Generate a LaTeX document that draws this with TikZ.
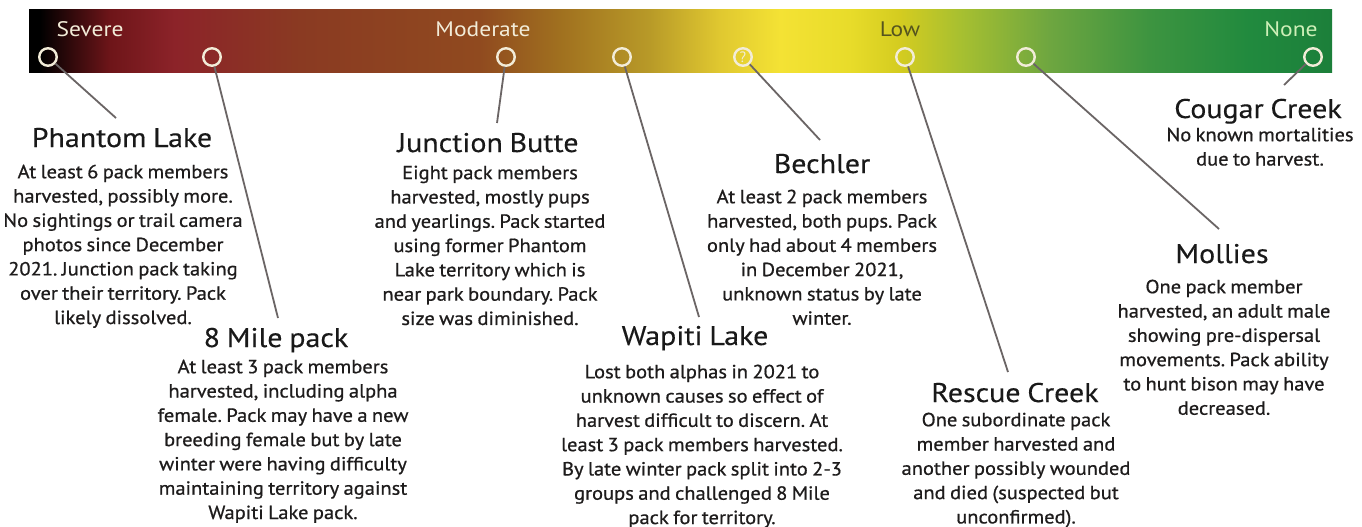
\documentclass[tikz,border=0pt]{standalone}
\usepackage{fontspec}
\setmainfont{PT Sans}
\newfontfamily\bodyf{PT Sans}[FakeStretch=1.08,FakeBold=0.7,WordSpace=0.8]
\newfontfamily\ttlf{PT Sans}[FakeStretch=1.11,FakeBold=0.3,WordSpace=0.85]
\newfontfamily\barf{PT Sans}[FakeStretch=1.12]
\frenchspacing
\definecolor{cream}{HTML}{F2ECD8}
\definecolor{lowtxt}{HTML}{55541E}
\definecolor{conn}{HTML}{6B6565}
\definecolor{bodytxt}{HTML}{1E1C1C}
\definecolor{ga}{HTML}{6E1519}
\definecolor{gb}{HTML}{8C2329}
\definecolor{gc}{HTML}{8A3A22}
\definecolor{gd}{HTML}{904A1F}
\definecolor{ge}{HTML}{A0701F}
\definecolor{gf}{HTML}{B89A28}
\definecolor{gg}{HTML}{E0C830}
\definecolor{gh}{HTML}{F4E234}
\definecolor{gi}{HTML}{E8DC2A}
\definecolor{gj}{HTML}{D4CC20}
\definecolor{gk}{HTML}{A8C030}
\definecolor{gl}{HTML}{6EA640}
\definecolor{gm}{HTML}{3D9440}
\definecolor{gn}{HTML}{218A3E}
\definecolor{go}{HTML}{1C7F3A}
\pgfdeclarehorizontalshading{harvestbar}{100bp}{%
color(0bp)=(black);
color(25bp)=(black);
color(25.42bp)=(black);
color(28.11bp)=(ga);
color(30.6bp)=(gb);
color(35.39bp)=(gc);
color(42.29bp)=(gd);
color(45.36bp)=(ge);
color(48.81bp)=(gf);
color(51.5bp)=(gg);
color(53.8bp)=(gh);
color(56.48bp)=(gi);
color(58.4bp)=(gj);
color(60.7bp)=(gk);
color(64.15bp)=(gl);
color(67.99bp)=(gm);
color(71.82bp)=(gn);
color(75bp)=(go);
color(100bp)=(go)}
\begin{document}
\begin{tikzpicture}[x=1pt,y=-1pt,
  ring/.style={circle,draw=cream,line width=2.4pt,minimum size=17.5pt,inner sep=0pt},
  conn/.style={draw=conn,line width=1.8pt},
  bartxt/.style={font=\barf\fontsize{21}{24}\selectfont,inner sep=0pt,anchor=base},
  ttl/.style={font=\ttlf\fontsize{27}{30}\selectfont,text=black!90,inner sep=0pt,anchor=base},
  body/.style={font=\bodyf\fontsize{19}{24.3}\selectfont,text=bodytxt,align=center,inner sep=0pt,anchor=north}]
\useasboundingbox (0,0) rectangle (1362,527);
\fill[white] (0,0) rectangle (1362,527);
% bar
\shade[shading=harvestbar] (29,10) rectangle (1332,72);
\node[bartxt,text=cream] (lsev) at (90,37) {Severe};
\node[bartxt,text=cream] (lmod) at (483,37) {Moderate};
\node[bartxt,text=lowtxt] (llow) at (900,37) {Low};
\node[bartxt,text=cream!85!green] (lnon) at (1291,37) {None};
% rings
\node[ring] (c1) at (48,57) {};
\node[ring] (c2) at (212,57) {};
\node[ring] (c3) at (506,57) {};
\node[ring] (c4) at (622,57) {};
\node[ring,font=\fontsize{15}{15}\selectfont,text=cream] (c5) at (743,57) {?};
\node[ring] (c6) at (905,57) {};
\node[ring] (c7) at (1026,57) {};
\node[ring] (c8) at (1313,57) {};
% connector ends
\coordinate (e1) at (116,118);
\coordinate (e2) at (278,318);
\coordinate (e3) at (497,123);
\coordinate (e4) at (699,317);
\coordinate (e5) at (820,140);
\coordinate (e6) at (1008,372);
\coordinate (e7) at (1219,229);
\coordinate (e8) at (1284,85);
\foreach \i in {1,...,8} {\draw[conn] (c\i) -- (e\i);}
% Phantom Lake
\node[ttl] (t1) at (122,147) {Phantom Lake};
\node[body] (b1) at (123,164.5) {At least 6 pack members\\harvested, possibly more.\\No sightings or trail camera\\photos since December\\2021. Junction pack taking\\over their territory. Pack\\likely dissolved.};
% 8 Mile
\node[ttl] (t2) at (276,347) {8 Mile pack};
\node[body] (b2) at (283,359.5) {At least 3 pack members\\harvested, including alpha\\female. Pack may have a new\\breeding female but by late\\winter were having difficulty\\maintaining territory against\\Wapiti Lake pack.};
% Junction Butte
\node[ttl] (t3) at (488,152) {Junction Butte};
\node[body] (b3) at (490,165.5) {Eight pack members\\harvested, mostly pups\\and yearlings. Pack started\\using former Phantom\\Lake territory which is\\near park boundary. Pack\\size was diminished.};
% Wapiti Lake
\node[ttl] (t4) at (695,345) {Wapiti Lake};
\node[body] (b4) at (702,364.5) {Lost both alphas in 2021 to\\unknown causes so effect of\\harvest difficult to discern. At\\least 3 pack members harvested.\\By late winter pack split into 2-3\\groups and challenged 8 Mile\\pack for territory.};
% Bechler
\node[ttl] (t5) at (822,173) {Bechler};
\node[body] (b5) at (822,189.5) {At least 2 pack members\\harvested, both pups. Pack\\only had about 4 members\\in December 2021,\\unknown status by late\\winter.};
% Rescue Creek
\node[ttl] (t6) at (1015,402) {Rescue Creek};
\node[body] (b6) at (1016,412.5) {One subordinate pack\\member harvested and\\another possibly wounded\\and died (suspected but\\unconfirmed).};
% Mollies
\node[ttl] (t7) at (1222,263) {Mollies};
\node[body] (b7) at (1224,279.5) {One pack member\\harvested, an adult male\\showing pre-dispersal\\movements. Pack ability\\to hunt bison may have\\decreased.};
% Cougar Creek
\node[ttl] (t8) at (1258,118) {Cougar Creek};
\node[body] (b8) at (1260,127.5) {No known mortalities\\due to harvest.};
\end{tikzpicture}
\end{document}
